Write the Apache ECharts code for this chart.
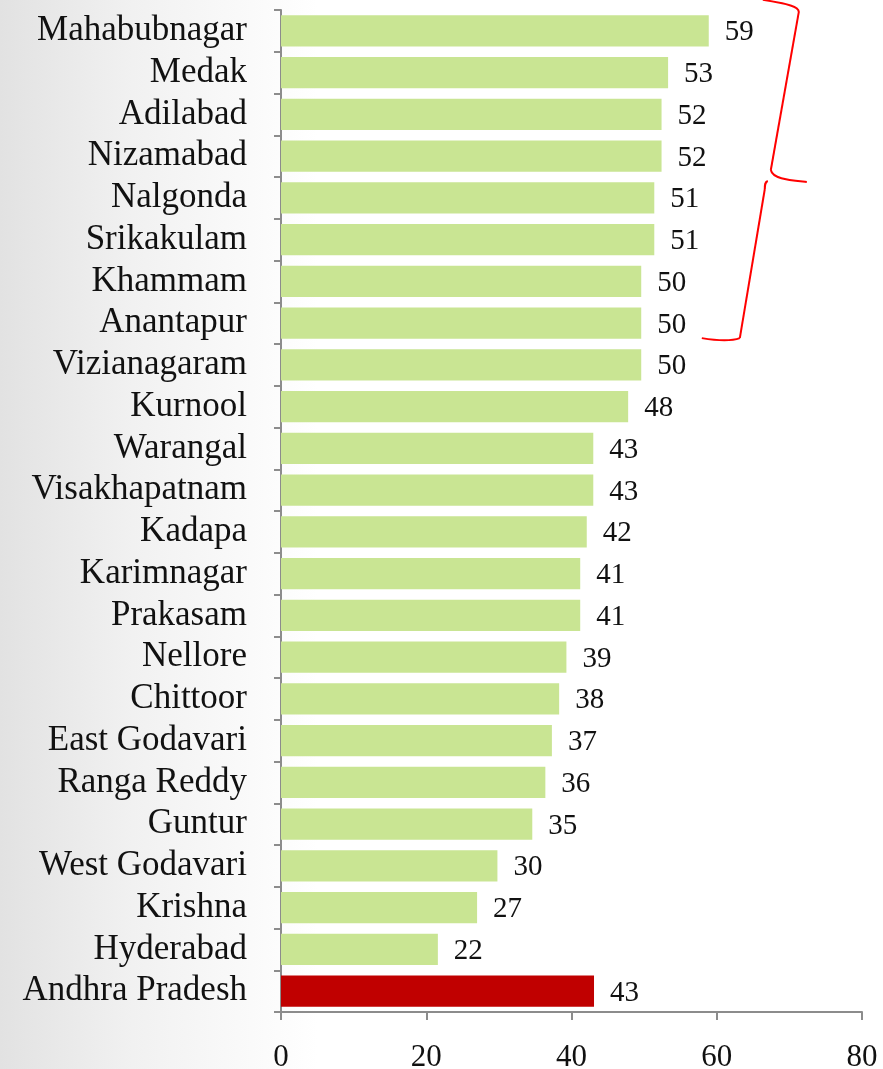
<!DOCTYPE html>
<html>
<head>
<meta charset="utf-8">
<script src="https://cdn.jsdelivr.net/npm/echarts@6/dist/echarts.min.js"></script>
<style>
  html, body { margin: 0; padding: 0; }
  body { width: 883px; height: 1069px; background: linear-gradient(to right, #e2e2e2 0%, #f1f1f1 15%, #fbfbfb 30%, #ffffff 36%); }
  #chart { width: 883px; height: 1069px; }
</style>
</head>
<body>
<div id="chart"></div>
<script>
// districts, top to bottom
var districts = ['Mahabubnagar', 'Medak', 'Adilabad', 'Nizamabad', 'Nalgonda', 'Srikakulam',
  'Khammam', 'Anantapur', 'Vizianagaram', 'Kurnool', 'Warangal', 'Visakhapatnam', 'Kadapa',
  'Karimnagar', 'Prakasam', 'Nellore', 'Chittoor', 'East Godavari', 'Ranga Reddy', 'Guntur',
  'West Godavari', 'Krishna', 'Hyderabad', 'Andhra Pradesh'];
var values = [58.9, 53.3, 52.4, 52.4, 51.4, 51.4, 49.6, 49.6, 49.6, 47.8, 43.0, 43.0, 42.1,
  41.2, 41.2, 39.3, 38.3, 37.3, 36.4, 34.6, 29.8, 27.0, 21.6, 43.1];
var xTicks = [0, 20, 40, 60, 80];
var stateName = 'Andhra Pradesh';

var green = '#C9E593';
var red = '#C00000';
var serif = '"Liberation Serif", "DejaVu Serif", serif';

var chart = echarts.init(document.getElementById('chart'));

var option = {
  backgroundColor: 'transparent',
  animation: false,
  grid: { left: 281, right: 21, top: 10, bottom: 57, outerBoundsMode: 'none', containLabel: false },
  xAxis: {
    type: 'value',
    min: xTicks[0],
    max: xTicks[xTicks.length - 1],
    interval: 20,
    splitLine: { show: false },
    axisLine: { show: true, lineStyle: { color: '#8c8c8c', width: 2 } },
    axisTick: { show: true, length: 8, lineStyle: { color: '#8c8c8c', width: 2 } },
    axisLabel: { color: '#111', fontFamily: serif, fontSize: 31, margin: 30 }
  },
  yAxis: {
    type: 'category',
    inverse: true,
    data: districts,
    axisLine: { show: true, lineStyle: { color: '#8c8c8c', width: 2 } },
    axisTick: { show: true, interval: 0, length: 7, lineStyle: { color: '#8c8c8c', width: 2 } },
    axisLabel: { interval: 0, color: '#111', fontFamily: serif, fontSize: 35, margin: 34 }
  },
  series: [{
    type: 'bar',
    barCategoryGap: '25%',
    data: values.map(function (v, i) {
      return {
        value: v,
        itemStyle: { color: districts[i] === stateName ? red : green }
      };
    }),
    label: {
      show: true,
      position: 'right',
      distance: 16,
      offset: [0, 2],
      color: '#111',
      fontFamily: serif,
      fontSize: 29,
      formatter: function (p) { return Math.round(p.value); }
    }
  }]
};
chart.setOption(option);

// red curly brace next to the top districts
var yFirst = chart.convertToPixel({ yAxisIndex: 0 }, 'Mahabubnagar');
var yLast = chart.convertToPixel({ yAxisIndex: 0 }, 'Anantapur');
var bx = chart.convertToPixel({ xAxisIndex: 0 }, 71.3);
var yTop = yFirst - 31;
var yBot = yLast + 17;
var mid = (yFirst + yLast) / 2 + 4;

var braceStyle = { fill: null, stroke: '#ff0000', lineWidth: 2 };
function bez(x1, y1, cx1, cy1, cx2, cy2, x2, y2) {
  return { type: 'bezierCurve', shape: { x1: x1, y1: y1, cpx1: cx1, cpy1: cy1, cpx2: cx2, cpy2: cy2, x2: x2, y2: y2 }, style: braceStyle };
}
function seg(x1, y1, x2, y2) {
  return { type: 'line', shape: { x1: x1, y1: y1, x2: x2, y2: y2 }, style: braceStyle };
}

chart.setOption({
  graphic: [
    bez(bx - 36, yTop, bx - 10, yTop + 4, bx, yTop + 7, bx, yTop + 12),
    seg(bx, yTop + 12, bx - 28, mid - 11),
    bez(bx - 28, mid - 11, bx - 26, mid - 2, bx - 10, mid - 1, bx + 8, mid + 1),
    bez(bx - 31, mid, bx - 34, mid + 1, bx - 34, mid + 4, bx - 34, mid + 8),
    seg(bx - 34, mid + 8, bx - 59, yBot - 2),
    bez(bx - 59, yBot - 2, bx - 70, yBot + 2, bx - 85, yBot, bx - 97, yBot - 2)
  ]
});
</script>
</body>
</html>
